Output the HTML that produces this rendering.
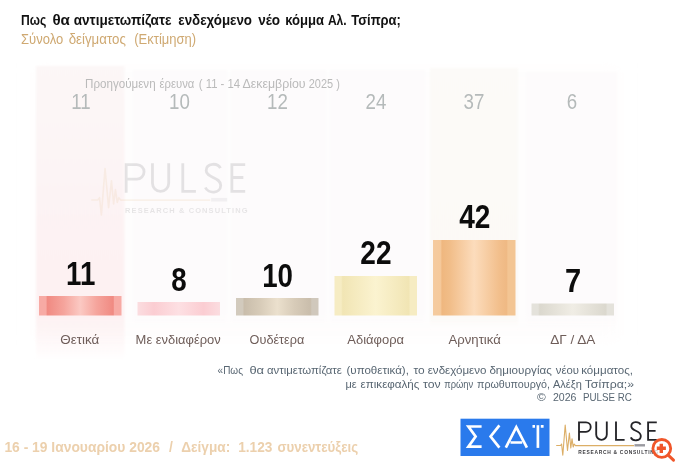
<!DOCTYPE html>
<html lang="el">
<head>
<meta charset="utf-8">
<title>Pulse RC</title>
<style>
  html, body { margin: 0; padding: 0; background: #ffffff; }
  body { width: 680px; height: 467px; overflow: hidden; font-family: "Liberation Sans", sans-serif; }
  svg { display: block; }
  text { font-family: "Liberation Sans", sans-serif; }
</style>
</head>
<body>
<svg width="680" height="467" viewBox="0 0 680 467" style="will-change:transform">
  <defs>
    <linearGradient id="g1" x1="0" x2="1" y1="0" y2="0">
      <stop offset="0" stop-color="#f7aaa4"/>
      <stop offset="0.085" stop-color="#f7aaa4"/>
      <stop offset="0.1" stop-color="#f08a82"/>
      <stop offset="0.3" stop-color="#f5a49c"/>
      <stop offset="0.5" stop-color="#fbc9c3"/>
      <stop offset="0.7" stop-color="#f5a49c"/>
      <stop offset="0.9" stop-color="#f08a82"/>
      <stop offset="0.915" stop-color="#f7aaa4"/>
      <stop offset="1" stop-color="#f7aaa4"/>
    </linearGradient>
    <linearGradient id="g2" x1="0" x2="1" y1="0" y2="0">
      <stop offset="0" stop-color="#fbdde0"/>
      <stop offset="0.2" stop-color="#fbcdd2"/>
      <stop offset="0.5" stop-color="#fde0e3"/>
      <stop offset="0.8" stop-color="#fbcdd2"/>
      <stop offset="1" stop-color="#fbdde0"/>
    </linearGradient>
    <linearGradient id="g3" x1="0" x2="1" y1="0" y2="0">
      <stop offset="0" stop-color="#d2cabd"/>
      <stop offset="0.08" stop-color="#d2cabd"/>
      <stop offset="0.1" stop-color="#c9bdab"/>
      <stop offset="0.3" stop-color="#d8ccb9"/>
      <stop offset="0.5" stop-color="#ebe0cd"/>
      <stop offset="0.7" stop-color="#d8ccb9"/>
      <stop offset="0.9" stop-color="#c9bdab"/>
      <stop offset="0.92" stop-color="#d0c8bc"/>
      <stop offset="1" stop-color="#d0c8bc"/>
    </linearGradient>
    <linearGradient id="g4" x1="0" x2="1" y1="0" y2="0">
      <stop offset="0" stop-color="#f6ecc3"/>
      <stop offset="0.08" stop-color="#f6ecc3"/>
      <stop offset="0.1" stop-color="#f1e5b4"/>
      <stop offset="0.5" stop-color="#fbf3d0"/>
      <stop offset="0.9" stop-color="#f1e5b4"/>
      <stop offset="0.92" stop-color="#f6ecc3"/>
      <stop offset="1" stop-color="#f6ecc3"/>
    </linearGradient>
    <linearGradient id="g5" x1="0" x2="1" y1="0" y2="0">
      <stop offset="0" stop-color="#f5cb9f"/>
      <stop offset="0.09" stop-color="#f5c99b"/>
      <stop offset="0.11" stop-color="#efb77f"/>
      <stop offset="0.2" stop-color="#f1bd88"/>
      <stop offset="0.5" stop-color="#fcdcbc"/>
      <stop offset="0.8" stop-color="#f2bf8c"/>
      <stop offset="0.89" stop-color="#efb984"/>
      <stop offset="0.91" stop-color="#f3c593"/>
      <stop offset="1" stop-color="#f3c593"/>
    </linearGradient>
    <linearGradient id="g6" x1="0" x2="1" y1="0" y2="0">
      <stop offset="0" stop-color="#e4e2db"/>
      <stop offset="0.08" stop-color="#e4e2db"/>
      <stop offset="0.1" stop-color="#dbd8ce"/>
      <stop offset="0.5" stop-color="#f0ede5"/>
      <stop offset="0.9" stop-color="#dbd8ce"/>
      <stop offset="0.92" stop-color="#e4e2db"/>
      <stop offset="1" stop-color="#e4e2db"/>
    </linearGradient>


    <linearGradient id="b1" x1="0" x2="0" y1="0" y2="1">
      <stop offset="0" stop-color="#fcf7f7"/>
      <stop offset="0.6" stop-color="#fdf2f3"/>
      <stop offset="0.84" stop-color="#fdf1f2"/>
      <stop offset="1" stop-color="#fdf1f2" stop-opacity="0"/>
    </linearGradient>
    <linearGradient id="b2" x1="0" x2="0" y1="0" y2="1">
      <stop offset="0" stop-color="#fdfbfc"/>
      <stop offset="0.94" stop-color="#fdfbfc"/>
      <stop offset="1" stop-color="#fdfbfc" stop-opacity="0"/>
    </linearGradient>
    <linearGradient id="b5" x1="0" x2="0" y1="0" y2="1">
      <stop offset="0" stop-color="#fcfaf8"/>
      <stop offset="0.95" stop-color="#fcf9f6"/>
      <stop offset="1" stop-color="#fcf9f6" stop-opacity="0"/>
    </linearGradient>
    <filter id="soft2" x="-5%" y="-5%" width="110%" height="110%"><feGaussianBlur stdDeviation="1.2"/></filter>
    <filter id="soft6" x="-5%" y="-5%" width="110%" height="110%"><feGaussianBlur stdDeviation="8"/></filter>
    <g id="pulselogo">
      <!-- ECG line: origin at logo left, y=0 at top of PULSE letters -->
      <path d="M-0.8 24 H3.5 L4.6 22.5 L5.8 33.7 L8.2 3.5 L10.5 29 L12.4 11.5 L13.8 26.5 L15 17.2 L16.2 25.5 L17.2 22.5 L18.5 24.1 H77" fill="none" stroke="#dcae66" stroke-width="1.1" stroke-linejoin="round"/>
      <g fill="none" stroke="#242428" stroke-width="1.85">
        <path d="M22 19.3 V0.9 H29 A4.7 4.7 0 0 1 29 10.3 H22"/>
        <path d="M39.2 0 V13 A5.3 5.3 0 0 0 49.8 13 V0"/>
        <path d="M59 0 V18.4 H67.6"/>
        <path d="M83.6 3.2 C82 -0.3 74.4 -0.6 74.3 4.7 C74.2 9.8 83.9 8.7 83.8 14.5 C83.7 20 75.5 20 73.8 15.8"/>
        <path d="M99.8 0.9 H91.1 V18.4 H99.8 M91.1 9.3 H98.6"/>
      </g>
      <rect x="77.5" y="22.6" width="10.5" height="2.4" fill="#9a9aa0"/>
      <text x="21.3" y="32.6" font-size="4.9" font-weight="700" fill="#3a3a3e" textLength="80" lengthAdjust="spacing">RESEARCH &amp; CONSULTING</text>
    </g>
  </defs>

  <!-- background -->
  <rect x="0" y="0" width="680" height="467" fill="#ffffff"/>
  <rect x="34" y="68" width="586" height="272" fill="#fefdfd" filter="url(#soft6)"/>

  <!-- column bands -->
  <g filter="url(#soft2)">
    <rect x="36"  y="66" width="88.5" height="296" fill="url(#b1)"/>
    <rect x="133" y="70" width="94" height="258" fill="url(#b2)"/>
    <rect x="231" y="70" width="95" height="258" fill="url(#b2)"/>
    <rect x="330" y="70" width="95" height="258" fill="url(#b2)"/>
    <rect x="430" y="68" width="88" height="260" fill="url(#b5)"/>
    <rect x="526" y="72" width="91" height="256" fill="url(#b2)"/>
  </g>

  <!-- watermark -->
  <g opacity="0.115">
    <use href="#pulselogo" transform="translate(92.5,163.3) scale(1.53)"/>
  </g>

  <!-- title -->
  <g font-size="14" font-weight="700" fill="#111111">
    <text x="21" y="24.8" textLength="25.3" lengthAdjust="spacingAndGlyphs">Πως</text>
    <text x="52.4" y="24.8" textLength="17.5" lengthAdjust="spacingAndGlyphs">θα</text>
    <text x="73.7" y="24.8" textLength="97.7" lengthAdjust="spacingAndGlyphs">αντιμετωπίζατε</text>
    <text x="178.3" y="24.8" textLength="73.7" lengthAdjust="spacingAndGlyphs">ενδεχόμενο</text>
    <text x="258.2" y="24.8" textLength="21.9" lengthAdjust="spacingAndGlyphs">νέο</text>
    <text x="285.2" y="24.8" textLength="38.9" lengthAdjust="spacingAndGlyphs">κόμμα</text>
    <text x="327.9" y="24.8" textLength="18.8" lengthAdjust="spacingAndGlyphs">Αλ.</text>
    <text x="351.2" y="24.8" textLength="49.7" lengthAdjust="spacingAndGlyphs">Τσίπρα;</text>
  </g>
  <g font-size="15.5" fill="#cfa972">
    <text x="21" y="44.2" textLength="42.2" lengthAdjust="spacingAndGlyphs">Σύνολο</text>
    <text x="68.7" y="44.2" textLength="57.1" lengthAdjust="spacingAndGlyphs">δείγματος</text>
    <text x="134.3" y="44.2" textLength="61.8" lengthAdjust="spacingAndGlyphs">(Εκτίμηση)</text>
  </g>

  <!-- previous survey -->
  <g font-size="13.2" fill="#bababa">
    <text x="85" y="88" textLength="70.6" lengthAdjust="spacingAndGlyphs">Προηγούμενη</text>
    <text x="159.5" y="88" textLength="34.9" lengthAdjust="spacingAndGlyphs">έρευνα</text>
    <text x="198.75" y="88" textLength="41.4" lengthAdjust="spacingAndGlyphs">( 11 - 14</text>
    <text x="242.5" y="88" textLength="63.1" lengthAdjust="spacingAndGlyphs">Δεκεμβρίου</text>
    <text x="308.75" y="88" textLength="31.1" lengthAdjust="spacingAndGlyphs">2025 )</text>
  </g>
  <g font-size="22" fill="#b5baba" text-anchor="middle">
    <text transform="translate(81,108.8) scale(0.85,1)">11</text>
    <text transform="translate(179.5,108.8) scale(0.85,1)">10</text>
    <text transform="translate(277.5,108.8) scale(0.85,1)">12</text>
    <text transform="translate(376,108.8) scale(0.85,1)">24</text>
    <text transform="translate(474,108.8) scale(0.85,1)">37</text>
    <text transform="translate(572,108.8) scale(0.85,1)">6</text>
  </g>

  <!-- bars -->
  <rect x="39"  y="296" width="82.5" height="19.5" fill="url(#g1)"/>
  <rect x="137.5" y="302" width="82.5" height="13.5" fill="url(#g2)"/>
  <rect x="236" y="298" width="82.5" height="17.5" fill="url(#g3)"/>
  <rect x="334.5" y="276" width="82.5" height="39.5" fill="url(#g4)"/>
  <rect x="433" y="240" width="82.5" height="75.5" fill="url(#g5)"/>
  <rect x="531.5" y="303.5" width="82.5" height="12" fill="url(#g6)"/>

  <!-- values -->
  <g font-size="33" font-weight="700" fill="#0c0c0c" text-anchor="middle">
    <text transform="translate(80.7,284.6) scale(0.84,1)">11</text>
    <text transform="translate(178.9,290.6) scale(0.84,1)">8</text>
    <text transform="translate(277.6,286.6) scale(0.84,1)">10</text>
    <text transform="translate(375.9,264.4) scale(0.85,1)">22</text>
    <text transform="translate(474.8,228.3) scale(0.85,1)">42</text>
    <text transform="translate(573,292.2) scale(0.88,1)">7</text>
  </g>

  <!-- categories -->
  <g font-size="13" fill="#6e5d59" lengthAdjust="spacingAndGlyphs">
    <text x="60.3" y="343.5" textLength="39" lengthAdjust="spacingAndGlyphs">Θετικά</text>
    <text x="135.6" y="343.5" textLength="85.2" lengthAdjust="spacingAndGlyphs">Με ενδιαφέρον</text>
    <text x="249.6" y="343.5" textLength="54.7" lengthAdjust="spacingAndGlyphs">Ουδέτερα</text>
    <text x="347.3" y="343.5" textLength="56.7" lengthAdjust="spacingAndGlyphs">Αδιάφορα</text>
    <text x="448.5" y="343.5" textLength="52.3" lengthAdjust="spacingAndGlyphs">Αρνητικά</text>
    <text x="550.2" y="343.5" textLength="45.2" lengthAdjust="spacingAndGlyphs">ΔΓ / ΔΑ</text>
  </g>

  <!-- footnote -->
  <g font-size="11.8" fill="#586672">
    <text x="217.6" y="373.7" textLength="25.4" lengthAdjust="spacingAndGlyphs">«Πως</text>
    <text x="249.4" y="373.7" textLength="14.7" lengthAdjust="spacingAndGlyphs">θα</text>
    <text x="267" y="373.7" textLength="74.8" lengthAdjust="spacingAndGlyphs">αντιμετωπίζατε</text>
    <text x="346.5" y="373.7" textLength="62.4" lengthAdjust="spacingAndGlyphs">(υποθετικά),</text>
    <text x="413.5" y="373.7" textLength="11.2" lengthAdjust="spacingAndGlyphs">το</text>
    <text x="427.7" y="373.7" textLength="58.8" lengthAdjust="spacingAndGlyphs">ενδεχόμενο</text>
    <text x="489.4" y="373.7" textLength="62.4" lengthAdjust="spacingAndGlyphs">δημιουργίας</text>
    <text x="555.8" y="373.7" textLength="23.2" lengthAdjust="spacingAndGlyphs">νέου</text>
    <text x="581.2" y="373.7" textLength="51.8" lengthAdjust="spacingAndGlyphs">κόμματος,</text>
    <text x="345.4" y="387.5" textLength="11.2" lengthAdjust="spacingAndGlyphs">με</text>
    <text x="360.6" y="387.5" textLength="58.8" lengthAdjust="spacingAndGlyphs">επικεφαλής</text>
    <text x="423" y="387.5" textLength="17.6" lengthAdjust="spacingAndGlyphs">τον</text>
    <text x="444.2" y="387.5" textLength="28.9" lengthAdjust="spacingAndGlyphs">πρώην</text>
    <text x="477" y="387.5" textLength="73.0" lengthAdjust="spacingAndGlyphs">πρωθυπουργό,</text>
    <text x="553" y="387.5" textLength="28.8" lengthAdjust="spacingAndGlyphs">Αλέξη</text>
    <text x="584.7" y="387.5" textLength="49.3" lengthAdjust="spacingAndGlyphs">Τσίπρα;»</text>
    <text x="537" y="401" textLength="8.8" lengthAdjust="spacingAndGlyphs">©</text>
    <text x="553" y="401" textLength="23.5" lengthAdjust="spacingAndGlyphs">2026</text>
    <text x="583" y="401" textLength="48.9" lengthAdjust="spacingAndGlyphs">PULSE RC</text>
  </g>

  <!-- date -->
  <g font-size="14" font-weight="700" fill="#ecd0ad">
    <text x="4.4" y="452" textLength="155.6" lengthAdjust="spacingAndGlyphs">16 - 19 Ιανουαρίου 2026</text>
    <text x="169" y="452">/</text>
    <text x="181.2" y="452" textLength="49" lengthAdjust="spacingAndGlyphs">Δείγμα:</text>
    <text x="238.2" y="452" textLength="34.2" lengthAdjust="spacingAndGlyphs">1.123</text>
    <text x="277.4" y="452" textLength="80.8" lengthAdjust="spacingAndGlyphs">συνεντεύξεις</text>
  </g>

  <!-- SKAI -->
  <rect x="460.5" y="418.7" width="89" height="37.3" fill="#2a7aec"/>
  <g fill="none" stroke="#ffffff" stroke-width="2.7" stroke-linejoin="miter" stroke-linecap="butt">
    <path d="M481.6 426.5 H468.4 L475.6 436.5 L468.4 446.6 H481.6"/>
    <path d="M499.4 425.4 L490.6 436.5 L499.4 447.7"/>
    <path d="M505.8 447.7 L516.3 427.2 L526.9 447.7 M510.5 442.5 H522.2"/>
    <path d="M537.9 425.2 V447.9"/>
    <path d="M532.5 426.4 H535 M540.8 426.4 H543.6"/>
  </g>

  <!-- PULSE logo -->
  <use href="#pulselogo" transform="translate(557,421.5)"/>

  <!-- magnifier -->
  <g fill="none" stroke="#f0562a">
    <circle cx="661.8" cy="448.4" r="8.9" stroke-width="2.8" fill="#ffffff" fill-opacity="0.7"/>
    <path d="M668.2 455.2 L673.5 460.2" stroke-width="3" stroke-linecap="round"/>
    <path d="M661.3 443.8 V452.9 M656.8 448.3 H665.9" stroke-width="3.4"/>
  </g>

</svg>
</body>
</html>
